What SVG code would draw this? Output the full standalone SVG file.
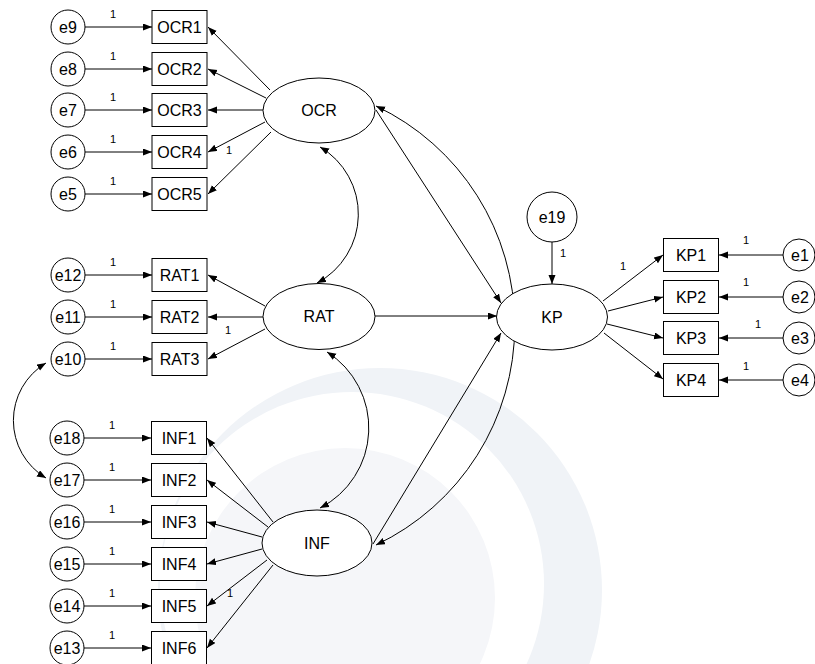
<svg xmlns="http://www.w3.org/2000/svg" width="815" height="664" viewBox="0 0 815 664">
<defs>
<marker id="ah" markerUnits="userSpaceOnUse" markerWidth="10" markerHeight="8" refX="9" refY="3.5" orient="auto-start-reverse">
<path d="M0,0 L9,3.5 L0,7 z" fill="#000"/>
</marker>
<style>
.n{fill:#fff;stroke:#000;stroke-width:1}
.t{font-family:"Liberation Sans",Arial,sans-serif;font-size:16px;fill:#000;text-anchor:middle}
.o{font-family:"Liberation Sans",Arial,sans-serif;font-size:11px;fill:#000;text-anchor:middle}
.c line,.c path{stroke:#000;stroke-width:1;fill:none;marker-end:url(#ah)}
.c path.d{marker-start:url(#ah)}
</style>
</defs>
<rect width="815" height="664" fill="#fff"/>
<g id="watermark">
<circle cx="380" cy="590" r="222" fill="#f0f3f7"/>
<circle cx="352" cy="584" r="192" fill="#fff"/>
<circle cx="345" cy="598" r="150" fill="#f5f6f9"/>
</g>
<g class="c" id="connectors">
<line x1="85" y1="27" x2="152" y2="27"/>
<line x1="85" y1="69" x2="152" y2="69"/>
<line x1="85" y1="110" x2="152" y2="110"/>
<line x1="85" y1="152" x2="152" y2="152"/>
<line x1="85" y1="194" x2="152" y2="194"/>
<line x1="85" y1="275" x2="152" y2="275"/>
<line x1="85" y1="317" x2="152" y2="317"/>
<line x1="85" y1="359" x2="152" y2="359"/>
<line x1="84" y1="438" x2="151" y2="438"/>
<line x1="84" y1="480" x2="151" y2="480"/>
<line x1="84" y1="522" x2="151" y2="522"/>
<line x1="84" y1="564" x2="151" y2="564"/>
<line x1="84" y1="606" x2="151" y2="606"/>
<line x1="84" y1="648" x2="151" y2="648"/>
<line x1="270" y1="90" x2="208" y2="27"/>
<line x1="266" y1="98" x2="208" y2="69"/>
<line x1="263" y1="110" x2="208" y2="110"/>
<line x1="265" y1="122" x2="208" y2="152"/>
<line x1="271" y1="132" x2="208" y2="194"/>
<line x1="265" y1="306" x2="208" y2="275"/>
<line x1="263" y1="317" x2="208" y2="317"/>
<line x1="265" y1="329" x2="208" y2="359"/>
<line x1="273" y1="522" x2="207" y2="438"/>
<line x1="268" y1="527" x2="207" y2="480"/>
<line x1="262" y1="537" x2="207" y2="522"/>
<line x1="262" y1="549" x2="207" y2="564"/>
<line x1="267" y1="560" x2="207" y2="606"/>
<line x1="273" y1="565" x2="207" y2="648"/>
<line x1="376" y1="110" x2="501" y2="303"/>
<line x1="375" y1="316" x2="497" y2="316"/>
<line x1="373" y1="544" x2="501" y2="333"/>
<line x1="552" y1="242" x2="552" y2="284"/>
<line x1="603" y1="301" x2="663" y2="255"/>
<line x1="608" y1="311" x2="663" y2="297"/>
<line x1="607" y1="324" x2="663" y2="338"/>
<line x1="604" y1="333" x2="663" y2="379"/>
<line x1="783" y1="255" x2="719" y2="255"/>
<line x1="783" y1="297" x2="719" y2="297"/>
<line x1="783" y1="338" x2="719" y2="338"/>
<line x1="783" y1="380" x2="719" y2="380"/>
<path class="d" d="M320,147 A78,78 0 0,1 317,283"/>
<path class="d" d="M327,352 A90,90 0 0,1 320,508"/>
<path class="d" d="M376,106 A243,243 0 0,1 376,545"/>
<path class="d" d="M46,363 A67,67 0 0,0 46,478"/>
</g>
<g id="OCR"><ellipse class="n" cx="319" cy="110.5" rx="56" ry="32.5"/><text class="t" x="319" y="116">OCR</text></g>
<g id="RAT"><ellipse class="n" cx="319" cy="316.5" rx="56" ry="33"/><text class="t" x="319" y="322">RAT</text></g>
<g id="INF"><ellipse class="n" cx="317" cy="543" rx="55" ry="33"/><text class="t" x="317" y="549">INF</text></g>
<g id="KP"><ellipse class="n" cx="552" cy="317" rx="55.5" ry="33"/><text class="t" x="552" y="323">KP</text></g>
<g id="OCR1"><rect class="n" x="152" y="10.5" width="55" height="33"/><text class="t" x="179.5" y="33">OCR1</text></g>
<g id="OCR2"><rect class="n" x="152" y="52.5" width="55" height="33"/><text class="t" x="179.5" y="75">OCR2</text></g>
<g id="OCR3"><rect class="n" x="152" y="93.5" width="55" height="33"/><text class="t" x="179.5" y="116">OCR3</text></g>
<g id="OCR4"><rect class="n" x="152" y="135.5" width="55" height="33"/><text class="t" x="179.5" y="158">OCR4</text></g>
<g id="OCR5"><rect class="n" x="152" y="177.5" width="55" height="33"/><text class="t" x="179.5" y="200">OCR5</text></g>
<g id="RAT1"><rect class="n" x="152" y="258.5" width="55" height="33"/><text class="t" x="179.5" y="281">RAT1</text></g>
<g id="RAT2"><rect class="n" x="152" y="300.5" width="55" height="33"/><text class="t" x="179.5" y="323">RAT2</text></g>
<g id="RAT3"><rect class="n" x="152" y="342.5" width="55" height="33"/><text class="t" x="179.5" y="365">RAT3</text></g>
<g id="INF1"><rect class="n" x="151.5" y="421.5" width="55" height="33"/><text class="t" x="179" y="444">INF1</text></g>
<g id="INF2"><rect class="n" x="151.5" y="463.5" width="55" height="33"/><text class="t" x="179" y="486">INF2</text></g>
<g id="INF3"><rect class="n" x="151.5" y="505.5" width="55" height="33"/><text class="t" x="179" y="528">INF3</text></g>
<g id="INF4"><rect class="n" x="151.5" y="547.5" width="55" height="33"/><text class="t" x="179" y="570">INF4</text></g>
<g id="INF5"><rect class="n" x="151.5" y="589.5" width="55" height="33"/><text class="t" x="179" y="612">INF5</text></g>
<g id="INF6"><rect class="n" x="151.5" y="631.5" width="55" height="33"/><text class="t" x="179" y="654">INF6</text></g>
<g id="KP1"><rect class="n" x="663.5" y="238.5" width="55" height="33"/><text class="t" x="691" y="261">KP1</text></g>
<g id="KP2"><rect class="n" x="663.5" y="280.5" width="55" height="33"/><text class="t" x="691" y="303">KP2</text></g>
<g id="KP3"><rect class="n" x="663.5" y="321.5" width="55" height="33"/><text class="t" x="691" y="344">KP3</text></g>
<g id="KP4"><rect class="n" x="663.5" y="363.5" width="55" height="33"/><text class="t" x="691" y="386">KP4</text></g>
<g id="e9"><circle class="n" cx="68" cy="27" r="17"/><text class="t" x="68" y="33">e9</text></g>
<g id="e8"><circle class="n" cx="68" cy="69" r="17"/><text class="t" x="68" y="75">e8</text></g>
<g id="e7"><circle class="n" cx="68" cy="110" r="17"/><text class="t" x="68" y="116">e7</text></g>
<g id="e6"><circle class="n" cx="68" cy="152" r="17"/><text class="t" x="68" y="158">e6</text></g>
<g id="e5"><circle class="n" cx="68" cy="194" r="17"/><text class="t" x="68" y="200">e5</text></g>
<g id="e12"><circle class="n" cx="68" cy="275" r="17"/><text class="t" x="68" y="281">e12</text></g>
<g id="e11"><circle class="n" cx="68" cy="317" r="17"/><text class="t" x="68" y="323">e11</text></g>
<g id="e10"><circle class="n" cx="68" cy="359" r="17"/><text class="t" x="68" y="365">e10</text></g>
<g id="e18"><circle class="n" cx="67" cy="438" r="17"/><text class="t" x="67" y="444">e18</text></g>
<g id="e17"><circle class="n" cx="67" cy="480" r="17"/><text class="t" x="67" y="486">e17</text></g>
<g id="e16"><circle class="n" cx="67" cy="522" r="17"/><text class="t" x="67" y="528">e16</text></g>
<g id="e15"><circle class="n" cx="67" cy="564" r="17"/><text class="t" x="67" y="570">e15</text></g>
<g id="e14"><circle class="n" cx="67" cy="606" r="17"/><text class="t" x="67" y="612">e14</text></g>
<g id="e13"><circle class="n" cx="67" cy="648" r="17"/><text class="t" x="67" y="654">e13</text></g>
<g id="e1"><circle class="n" cx="799" cy="255" r="16"/><text class="t" x="800" y="261">e1</text></g>
<g id="e2"><circle class="n" cx="799" cy="297" r="16"/><text class="t" x="800" y="303">e2</text></g>
<g id="e3"><circle class="n" cx="799" cy="338" r="16"/><text class="t" x="800" y="344">e3</text></g>
<g id="e4"><circle class="n" cx="799" cy="380" r="16"/><text class="t" x="800" y="386">e4</text></g>
<g id="e19"><circle class="n" cx="552" cy="217" r="25"/><text class="t" x="552" y="223">e19</text></g>
<g id="weights">
<text class="o" x="113" y="18">1</text>
<text class="o" x="113" y="60">1</text>
<text class="o" x="113" y="101">1</text>
<text class="o" x="113" y="143">1</text>
<text class="o" x="113" y="185">1</text>
<text class="o" x="229" y="154">1</text>
<text class="o" x="113" y="266">1</text>
<text class="o" x="113" y="308">1</text>
<text class="o" x="113" y="350">1</text>
<text class="o" x="228" y="334">1</text>
<text class="o" x="112" y="429">1</text>
<text class="o" x="112" y="471">1</text>
<text class="o" x="112" y="513">1</text>
<text class="o" x="112" y="555">1</text>
<text class="o" x="112" y="597">1</text>
<text class="o" x="112" y="639">1</text>
<text class="o" x="230" y="597">1</text>
<text class="o" x="563" y="257">1</text>
<text class="o" x="623" y="270">1</text>
<text class="o" x="746" y="244">1</text>
<text class="o" x="746" y="286">1</text>
<text class="o" x="758" y="328">1</text>
<text class="o" x="746" y="370">1</text>
</g>
</svg>
